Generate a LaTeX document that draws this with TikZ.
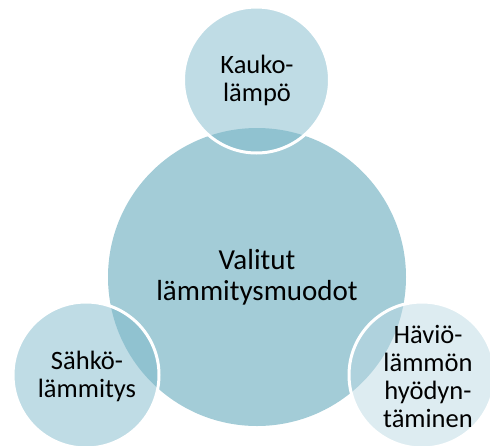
\documentclass[tikz,border=0pt]{standalone}
\usepackage{fontspec}
\setmainfont{Carlito}
\definecolor{bigc}{RGB}{163,204,215}
\definecolor{smallc}{RGB}{127,185,203}
\definecolor{lightc}{RGB}{187,217,227}
\begin{document}
\begin{tikzpicture}[x=1pt,y=-1pt,
  bigcirc/.style={circle,fill=bigc,minimum size=298pt,inner sep=0pt,align=center,
    font=\fontsize{29}{31}\selectfont},
  smallcirc/.style={circle,fill=#1,fill opacity=0.5,text opacity=1,draw=white,line width=3pt,
    minimum size=146pt,inner sep=0pt,align=center,font=\fontsize{26.5}{28}\selectfont},
  lbl/.style={align=center,font=\fontsize{26.5}{28}\selectfont,inner sep=0pt}]
\useasboundingbox (0,0) rectangle (490,445);
\node[bigcirc] (main) at (257,277) {Valitut\\lämmitysmuodot};
\node[smallcirc=smallc] (top) at (256.5,80) {};
\node[smallcirc=smallc] (left) at (86,375) {};
\node[smallcirc=lightc] (right) at (422,375) {};
\node[lbl] (ttop) at (257,80) {Kauko-\\lämpö};
\node[lbl] (tleft) at (87,376) {Sähkö-\\lämmitys};
\node[lbl] (tright) at (428,376) {Häviö-\\lämmön\\hyödyn-\\täminen};
\end{tikzpicture}
\end{document}
